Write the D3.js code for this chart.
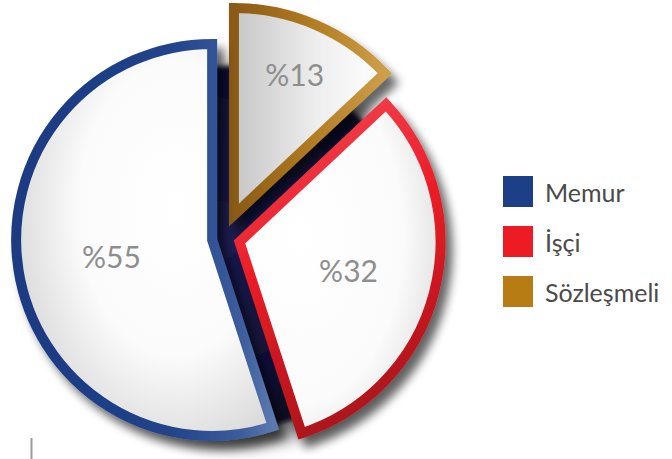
<!DOCTYPE html>
<html>
<head>
<meta charset="utf-8">
<script src="https://cdn.jsdelivr.net/npm/d3@7"></script>
<style>
  html, body { margin: 0; padding: 0; background: #fff; }
  svg { display: block; }
</style>
</head>
<body>
<svg id="chart" width="672" height="459"></svg>
<script>
// ---- data ----
const categories = ["Sözleşmeli", "İşçi", "Memur"];
const values = [13, 32, 55];
const labels = ["%13", "%32", "%55"];
const legendOrder = ["Memur", "İşçi", "Sözleşmeli"];

// ---- styles ----
const colors = { "Memur": "#1c3f87", "İşçi": "#ed1c24", "Sözleşmeli": "#b87c14" };
const radii = { "Memur": 196, "İşçi": 201, "Sözleşmeli": 207 };
const explode = { "Memur": 12, "İşçi": 16, "Sözleşmeli": 25 };
const labelFrac = { "Memur": 0.52, "İşçi": 0.56, "Sözleşmeli": 0.74 };

const svg = d3.select("#chart");
const defs = svg.append("defs");
const cx = 224, cy = 238;

// gradients (bounding-box units)
function linGrad(id, x1, y1, x2, y2, stops) {
  const g = defs.append("linearGradient").attr("id", id)
    .attr("x1", x1).attr("y1", y1).attr("x2", x2).attr("y2", y2);
  stops.forEach(s => g.append("stop").attr("offset", s[0]).attr("stop-color", s[1]));
}
function radGrad(id, fx, fy, r, stops) {
  const g = defs.append("radialGradient").attr("id", id)
    .attr("cx", fx).attr("cy", fy).attr("r", r);
  stops.forEach(s => g.append("stop").attr("offset", s[0]).attr("stop-color", s[1]));
}
linGrad("strokeMemur", 0, 0, 1, 0, [[0, "#1b3a82"], [0.6, "#21438a"], [0.88, "#3d5d9c"], [1, "#5b79b0"]]);
linGrad("strokeIsci", 0.2, 0, 0.5, 1, [[0, "#f34654"], [0.45, "#ea1d26"], [1, "#a9141b"]]);
linGrad("strokeSoz", 0, 0, 1, 0, [[0, "#8a5a12"], [0.5, "#b07a22"], [1, "#cf9e48"]]);
radGrad("fillMemur", 0.62, 0.42, 0.75, [[0, "#ffffff"], [0.5, "#fbfbfb"], [1, "#cdcdcd"]]);
radGrad("fillIsci", 0.3, 0.4, 0.85, [[0, "#ffffff"], [0.6, "#fbfbfb"], [1, "#d3d3d3"]]);
linGrad("fillSoz", 0, 0, 1, 0, [[0, "#c6c6c6"], [0.55, "#eeeeee"], [1, "#ffffff"]]);
radGrad("backFill", 0.45, 0.45, 0.6, [[0, "#1c1c55"], [0.7, "#101036"], [1, "#06061a"]]);

const fillIds = { "Memur": "fillMemur", "İşçi": "fillIsci", "Sözleşmeli": "fillSoz" };
const strokeIds = { "Memur": "strokeMemur", "İşçi": "strokeIsci", "Sözleşmeli": "strokeSoz" };

// filters
const blurSoft = defs.append("filter").attr("id", "blurSoft")
  .attr("x", "-30%").attr("y", "-30%").attr("width", "160%").attr("height", "160%");
blurSoft.append("feGaussianBlur").attr("stdDeviation", 9);
const blurBack = defs.append("filter").attr("id", "blurBack")
  .attr("x", "-20%").attr("y", "-20%").attr("width", "140%").attr("height", "140%");
blurBack.append("feGaussianBlur").attr("stdDeviation", 2);
const drop = defs.append("filter").attr("id", "drop")
  .attr("x", "-20%").attr("y", "-20%").attr("width", "150%").attr("height", "150%");
drop.append("feGaussianBlur").attr("in", "SourceAlpha").attr("stdDeviation", 5).attr("result", "b");
drop.append("feOffset").attr("in", "b").attr("dx", 7).attr("dy", 9).attr("result", "o");
drop.append("feComponentTransfer").attr("in", "o").attr("result", "oa")
  .append("feFuncA").attr("type", "linear").attr("slope", 0.6);
const m = drop.append("feMerge");
m.append("feMergeNode").attr("in", "oa");
m.append("feMergeNode").attr("in", "SourceGraphic");

// pie
const data = categories.map((c, i) => ({ cat: c, value: values[i], label: labels[i] }));
const pie = d3.pie().sort(null).value(d => d.value);
const arcs = pie(data);

// back dark shape and soft shadow (whole pie)
const back = svg.append("g");
back.append("circle").attr("cx", cx + 16).attr("cy", cy + 18).attr("r", 188)
  .attr("fill", "#000").attr("opacity", 0.55).attr("filter", "url(#blurSoft)");
back.append("circle").attr("cx", cx + 8).attr("cy", cy + 10).attr("r", 182)
  .attr("fill", "url(#backFill)").attr("filter", "url(#blurBack)");

const sliceG = svg.append("g");
arcs.forEach(a => {
  const cat = a.data.cat;
  const mid = (a.startAngle + a.endAngle) / 2;
  const dx = Math.sin(mid) * explode[cat];
  const dy = -Math.cos(mid) * explode[cat];
  const arcGen = d3.arc().innerRadius(0).outerRadius(radii[cat]);
  const g = sliceG.append("g").attr("transform", `translate(${cx + dx},${cy + dy})`);
  g.append("path").attr("d", arcGen(a))
    .attr("fill", `url(#${fillIds[cat]})`)
    .attr("stroke", `url(#${strokeIds[cat]})`)
    .attr("stroke-width", 10)
    .attr("stroke-linejoin", "miter")
    .attr("stroke-miterlimit", 10)
    .attr("filter", "url(#drop)");
  const lr = radii[cat] * labelFrac[cat];
  g.append("text")
    .attr("x", Math.sin(mid) * lr)
    .attr("y", -Math.cos(mid) * lr)
    .attr("text-anchor", "middle")
    .attr("dominant-baseline", "central")
    .attr("font-family", "Lato, 'Open Sans', sans-serif")
    .attr("font-weight", 400)
    .attr("font-size", 30)
    .attr("fill", "#8e8e8e")
    .text(a.data.label);
});

// legend
const legend = svg.append("g").attr("transform", "translate(503,176)");
legendOrder.forEach((c, i) => {
  const row = legend.append("g").attr("transform", `translate(0,${i * 50})`);
  row.append("rect").attr("width", 30).attr("height", 31).attr("fill", colors[c]);
  row.append("text").attr("x", 42).attr("y", 15.5)
    .attr("dominant-baseline", "central")
    .attr("font-family", "Lato, 'Open Sans', sans-serif")
    .attr("font-weight", 400)
    .attr("font-size", 25)
    .attr("fill", "#4a4a4a")
    .text(c);
});

// small axis remnant bottom-left
svg.append("line").attr("x1", 31.5).attr("x2", 31.5).attr("y1", 438).attr("y2", 459)
  .attr("stroke", "#999").attr("stroke-width", 2);
</script>
</body>
</html>
